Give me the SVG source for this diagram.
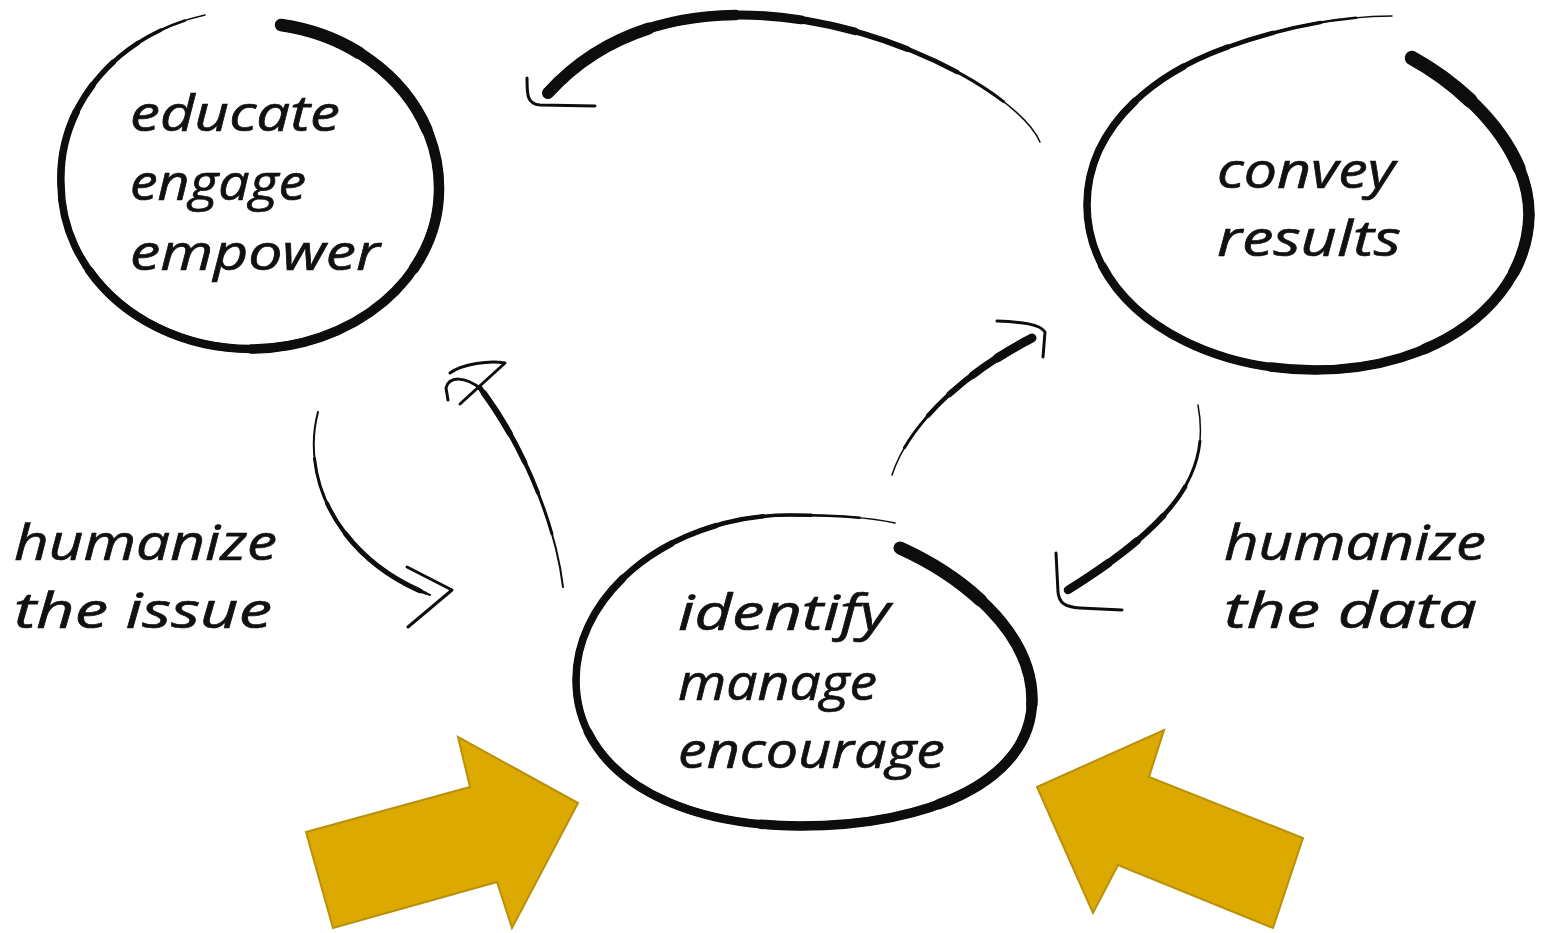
<svg xmlns="http://www.w3.org/2000/svg" xmlns:xlink="http://www.w3.org/1999/xlink" width="1542" height="933" viewBox="0 0 1542 933">
<style>
.s{fill:none;stroke:#0d0d0d;stroke-linecap:round;stroke-linejoin:round}
.head{fill:none;stroke:#0d0d0d;stroke-width:3;stroke-linecap:round;stroke-linejoin:round}
.t{font-family:"Open Sans","DejaVu Sans",sans-serif;font-style:italic;font-size:50px;fill:#111;stroke:#111;stroke-width:0.7}
.gold{fill:#DCA900;stroke:#B8900A;stroke-width:2;stroke-linejoin:miter}
</style>
<defs>
<path id="ringA" pathLength="100" d="M 281 25 A 188 165 0 0 1 439 190 A 190 160 0 0 1 251 349 A 190 165 0 0 1 61 185 A 190 168 0 0 1 205 15"/>
<path id="ringB" pathLength="100" d="M 1412 58 C 1470 90, 1529 150, 1529 215 C 1527 300, 1440 370, 1315 370 C 1190 370, 1087 300, 1087 205 C 1087 130, 1150 75, 1225 48 C 1280 28, 1340 16, 1392 16"/>
<path id="ringC" pathLength="100" d="M 900 548 C 960 575, 1032 630, 1032 700 C 1032 780, 930 826, 800 826 C 670 826, 576 770, 576 680 C 576 592, 672 515, 790 515 C 830 515, 868 517, 895 523"/>
<path id="arcTop" pathLength="100" d="M 1040 142 C 1010 70, 700 -75, 548 93"/>
<path id="arcIssue" pathLength="100" d="M 318 412 C 300 480, 340 560, 430 595"/>
<path id="arcData" pathLength="100" d="M 1198 405 C 1210 470, 1180 520, 1068 590"/>
<path id="arcUpL" pathLength="100" d="M 563 587 C 555 520, 520 440, 480 388"/>
<path id="arcUpR" pathLength="100" d="M 892 475 C 910 420, 970 370, 1032 338"/>
</defs>
<rect width="1542" height="933" fill="#ffffff"/>

<g id="node-educate">
<g class="s">
<use xlink:href="#ringA" stroke-width="1.5"/>
<use xlink:href="#ringA" stroke-width="2.5" stroke-dasharray="98 300"/>
<use xlink:href="#ringA" stroke-width="3.5" stroke-dasharray="95.5 300"/>
<use xlink:href="#ringA" stroke-width="4.5" stroke-dasharray="93 300"/>
<use xlink:href="#ringA" stroke-width="5.5" stroke-dasharray="90 300"/>
<use xlink:href="#ringA" stroke-width="6.5" stroke-dasharray="87 300"/>
<use xlink:href="#ringA" stroke-width="7.5" stroke-dasharray="84 300"/>
<use xlink:href="#ringA" stroke-width="8.5" stroke-dasharray="68 300"/>
<use xlink:href="#ringA" stroke-width="9.5" stroke-dasharray="50 300"/>
<use xlink:href="#ringA" stroke-width="10.5" stroke-dasharray="32 300"/>
<use xlink:href="#ringA" stroke-width="11.5" stroke-dasharray="18 300"/>
<use xlink:href="#ringA" stroke-width="12.5" stroke-dasharray="8 300"/>
</g>
<text class="t" x="130" y="131" textLength="210" lengthAdjust="spacingAndGlyphs">educate</text>
<text class="t" x="130" y="200" textLength="176" lengthAdjust="spacingAndGlyphs">engage</text>
<text class="t" x="130" y="270" textLength="250" lengthAdjust="spacingAndGlyphs">empower</text>
</g>

<g id="node-convey">
<g class="s">
<use xlink:href="#ringB" stroke-width="1.5"/>
<use xlink:href="#ringB" stroke-width="2.5" stroke-dasharray="97 300"/>
<use xlink:href="#ringB" stroke-width="3.5" stroke-dasharray="94 300"/>
<use xlink:href="#ringB" stroke-width="4.5" stroke-dasharray="90 300"/>
<use xlink:href="#ringB" stroke-width="5.5" stroke-dasharray="86 300"/>
<use xlink:href="#ringB" stroke-width="6.5" stroke-dasharray="82 300"/>
<use xlink:href="#ringB" stroke-width="7.5" stroke-dasharray="77 300"/>
<use xlink:href="#ringB" stroke-width="8.5" stroke-dasharray="62 300"/>
<use xlink:href="#ringB" stroke-width="9.5" stroke-dasharray="45 300"/>
<use xlink:href="#ringB" stroke-width="10.5" stroke-dasharray="32 300"/>
<use xlink:href="#ringB" stroke-width="11.5" stroke-dasharray="22 300"/>
<use xlink:href="#ringB" stroke-width="13" stroke-dasharray="13 300"/>
<use xlink:href="#ringB" stroke-width="14.5" stroke-dasharray="6 300"/>
</g>
<text class="t" x="1217" y="188" textLength="178" lengthAdjust="spacingAndGlyphs">convey</text>
<text class="t" x="1217" y="256" textLength="184" lengthAdjust="spacingAndGlyphs">results</text>
</g>

<g id="node-identify">
<g class="s">
<use xlink:href="#ringC" stroke-width="1.5"/>
<use xlink:href="#ringC" stroke-width="2.5" stroke-dasharray="97 300"/>
<use xlink:href="#ringC" stroke-width="3.5" stroke-dasharray="93 300"/>
<use xlink:href="#ringC" stroke-width="4.5" stroke-dasharray="89 300"/>
<use xlink:href="#ringC" stroke-width="5.5" stroke-dasharray="85 300"/>
<use xlink:href="#ringC" stroke-width="6.5" stroke-dasharray="81 300"/>
<use xlink:href="#ringC" stroke-width="7.5" stroke-dasharray="76 300"/>
<use xlink:href="#ringC" stroke-width="8.5" stroke-dasharray="62 300"/>
<use xlink:href="#ringC" stroke-width="9.5" stroke-dasharray="45 300"/>
<use xlink:href="#ringC" stroke-width="10.5" stroke-dasharray="30 300"/>
<use xlink:href="#ringC" stroke-width="11.5" stroke-dasharray="18 300"/>
<use xlink:href="#ringC" stroke-width="13" stroke-dasharray="8 300"/>
</g>
<text class="t" x="678" y="630" textLength="212" lengthAdjust="spacingAndGlyphs">identify</text>
<text class="t" x="678" y="700" textLength="199" lengthAdjust="spacingAndGlyphs">manage</text>
<text class="t" x="678" y="768" textLength="267" lengthAdjust="spacingAndGlyphs">encourage</text>
</g>

<g id="label-issue">
<text class="t" x="14" y="560" textLength="263" lengthAdjust="spacingAndGlyphs">humanize</text>
<text class="t" x="14" y="628" textLength="258" lengthAdjust="spacingAndGlyphs">the issue</text>
</g>

<g id="label-data">
<text class="t" x="1224" y="560" textLength="262" lengthAdjust="spacingAndGlyphs">humanize</text>
<text class="t" x="1224" y="628" textLength="253" lengthAdjust="spacingAndGlyphs">the data</text>
</g>

<g id="connectors">
<g id="conn-top" class="s">
<use xlink:href="#arcTop" stroke-width="1.5"/>
<use xlink:href="#arcTop" stroke-width="3" stroke-dasharray="90 300" stroke-dashoffset="-10"/>
<use xlink:href="#arcTop" stroke-width="4.5" stroke-dasharray="80 300" stroke-dashoffset="-20"/>
<use xlink:href="#arcTop" stroke-width="6" stroke-dasharray="70 300" stroke-dashoffset="-30"/>
<use xlink:href="#arcTop" stroke-width="7.5" stroke-dasharray="60 300" stroke-dashoffset="-40"/>
<use xlink:href="#arcTop" stroke-width="9" stroke-dasharray="50 300" stroke-dashoffset="-50"/>
<use xlink:href="#arcTop" stroke-width="10.5" stroke-dasharray="38 300" stroke-dashoffset="-62"/>
<use xlink:href="#arcTop" stroke-width="12" stroke-dasharray="22 300" stroke-dashoffset="-78"/>
<path class="head" d="M 527 78 C 527 95, 527 104, 540 105 L 595 106"/>
</g>
<g id="conn-issue" class="s">
<use xlink:href="#arcIssue" stroke-width="2"/>
<use xlink:href="#arcIssue" stroke-width="3" stroke-dasharray="78 300" stroke-dashoffset="-20"/>
<use xlink:href="#arcIssue" stroke-width="4" stroke-dasharray="56 300" stroke-dashoffset="-40"/>
<use xlink:href="#arcIssue" stroke-width="5" stroke-dasharray="40 300" stroke-dashoffset="-55"/>
<path class="head" d="M 407 567 L 452 590 L 408 627"/>
</g>
<g id="conn-data" class="s">
<use xlink:href="#arcData" stroke-width="1.5"/>
<use xlink:href="#arcData" stroke-width="3" stroke-dasharray="85 300" stroke-dashoffset="-15"/>
<use xlink:href="#arcData" stroke-width="4.5" stroke-dasharray="65 300" stroke-dashoffset="-35"/>
<use xlink:href="#arcData" stroke-width="6" stroke-dasharray="50 300" stroke-dashoffset="-50"/>
<use xlink:href="#arcData" stroke-width="7.5" stroke-dasharray="35 300" stroke-dashoffset="-65"/>
<use xlink:href="#arcData" stroke-width="8.5" stroke-dasharray="20 300" stroke-dashoffset="-80"/>
<path class="head" d="M 1056 553 L 1058 592 C 1059 603, 1065 607, 1080 608 L 1122 610"/>
</g>
<g id="conn-up-left" class="s">
<use xlink:href="#arcUpL" stroke-width="2"/>
<use xlink:href="#arcUpL" stroke-width="3" stroke-dasharray="75 300" stroke-dashoffset="-25"/>
<use xlink:href="#arcUpL" stroke-width="4" stroke-dasharray="55 300" stroke-dashoffset="-45"/>
<use xlink:href="#arcUpL" stroke-width="5" stroke-dasharray="40 300" stroke-dashoffset="-60"/>
<use xlink:href="#arcUpL" stroke-width="6" stroke-dasharray="22 300" stroke-dashoffset="-75"/>
<path class="head" d="M 481 389 C 465 376, 449 376, 446 388 L 448 400"/>
<path class="head" d="M 460 404 L 505 363 C 490 360, 462 364, 450 373"/>
</g>
<g id="conn-up-right" class="s">
<use xlink:href="#arcUpR" stroke-width="1.5"/>
<use xlink:href="#arcUpR" stroke-width="3" stroke-dasharray="85 300" stroke-dashoffset="-15"/>
<use xlink:href="#arcUpR" stroke-width="4.5" stroke-dasharray="65 300" stroke-dashoffset="-35"/>
<use xlink:href="#arcUpR" stroke-width="6" stroke-dasharray="50 300" stroke-dashoffset="-50"/>
<use xlink:href="#arcUpR" stroke-width="7.5" stroke-dasharray="35 300" stroke-dashoffset="-65"/>
<use xlink:href="#arcUpR" stroke-width="9" stroke-dasharray="20 300" stroke-dashoffset="-80"/>
<path class="head" d="M 997 321 C 1022 322, 1040 324, 1045 332 L 1043 357"/>
</g>
</g>

<g id="gold-arrow-left">
<polygon class="gold" points="578,803 512,928 497,882 333,928 306,832 470,787 458,737"/>
</g>
<g id="gold-arrow-right">
<polygon class="gold" points="1037,787 1164,730 1149,777 1303,838 1273,928 1118,865 1093,913"/>
</g>
</svg>
